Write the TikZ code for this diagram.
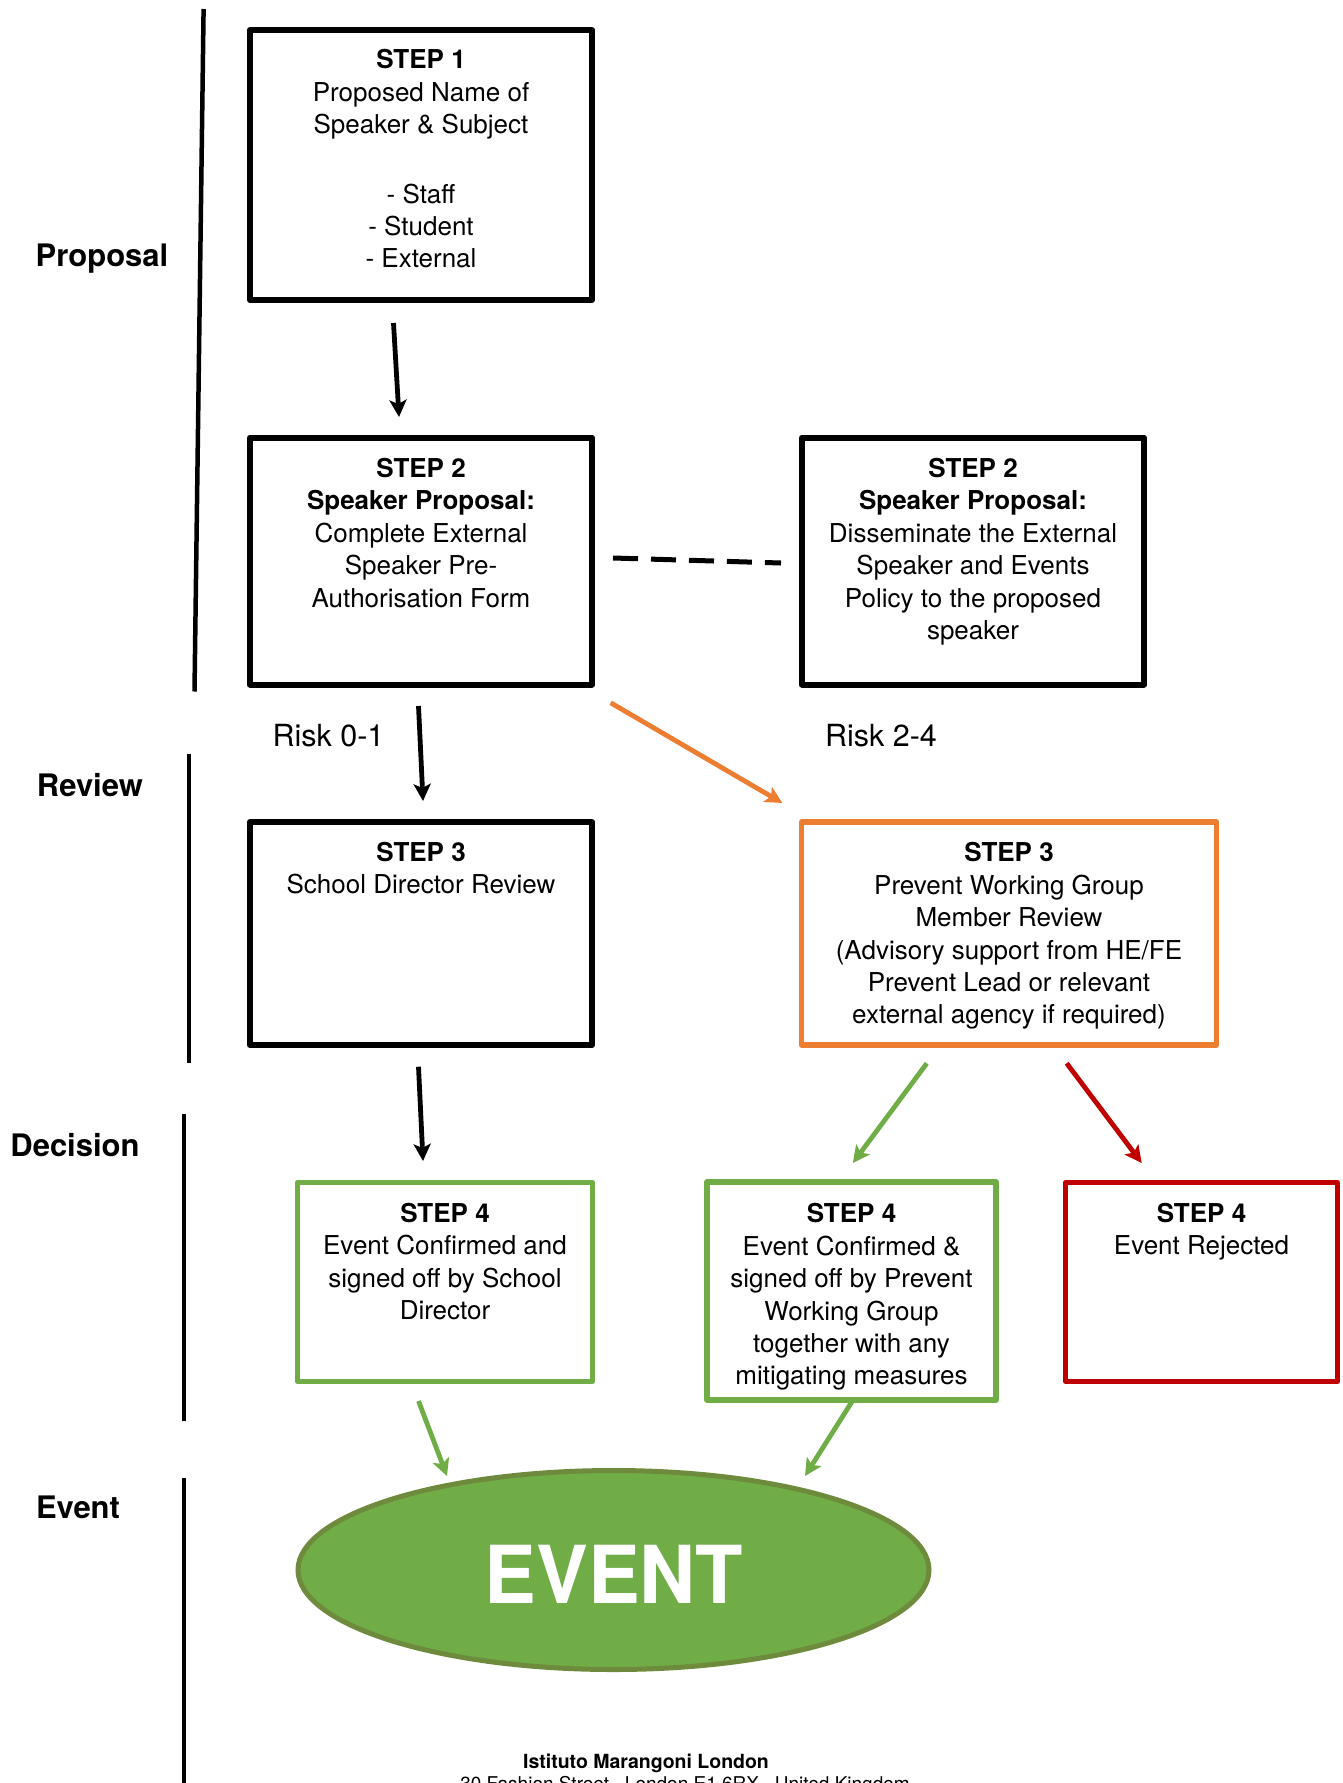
\documentclass[tikz,border=0pt]{standalone}
\usepackage{fontspec}
\setmainfont{TeX Gyre Heros}
\usetikzlibrary{shapes.geometric,arrows.meta}
\definecolor{orng}{HTML}{ED7D31}
\definecolor{grn}{HTML}{70AD47}
\definecolor{dgrn}{HTML}{6E8B3D}
\definecolor{rd}{HTML}{C00000}
\begin{document}
\begin{tikzpicture}[x=1pt,y=-1pt,
  box/.style={draw, line width=6pt, inner sep=0pt, line join=round},
  cbox/.style={draw, line width=5.2pt, inner sep=0pt, line join=round},
  txt/.style={align=center, inner sep=0pt, anchor=north, font=\fontsize{26}{32.4}\selectfont},
  lab/.style={font=\fontsize{31}{36}\selectfont\bfseries, inner sep=0pt},
  risk/.style={font=\fontsize{30.5}{36}\selectfont, inner sep=0pt},
  arr/.style={line width=4.8pt, -{Stealth[length=17pt,width=17pt,inset=4pt]}},
  vline/.style={line width=4.5pt}]
\path[use as bounding box] (0,0) rectangle (1343,1783);
\clip (0,0) rectangle (1343,1783);

% phase labels and lines
\node[lab] (lprop) at (102,259) {Proposal};
\node[lab] (lrev) at (90,785) {Review};
\node[lab] (ldec) at (75,1145) {Decision};
\node[lab] (levt) at (78,1507) {Event};
\coordinate (v1a) at (203.6,9);   \coordinate (v1b) at (194.5,691.5);
\coordinate (v2a) at (188.8,754); \coordinate (v2b) at (188.8,1063);
\coordinate (v3a) at (184,1114);  \coordinate (v3b) at (184,1421);
\coordinate (v4a) at (184,1478);  \coordinate (v4b) at (184,1790);
\draw[vline] (v1a) -- (v1b);
\draw[vline] (v2a) -- (v2b);
\draw[vline] (v3a) -- (v3b);
\draw[vline] (v4a) -- (v4b);

% boxes
\node[box, minimum width=342pt, minimum height=270pt] (s1) at (421,165) {};
\node[box, minimum width=342pt, minimum height=247pt] (s2l) at (421,561) {};
\node[box, minimum width=342pt, minimum height=247pt] (s2r) at (973,561) {};
\node[box, minimum width=342pt, minimum height=223pt] (s3l) at (421,933.5) {};
\node[cbox, draw=orng, minimum width=415pt, minimum height=223pt] (s3r) at (1009,933.5) {};
\node[cbox, draw=grn, minimum width=295pt, minimum height=199pt] (s4l) at (445,1282) {};
\node[cbox, draw=grn, minimum width=289pt, minimum height=218pt] (s4m) at (851.5,1291) {};
\node[cbox, draw=rd, minimum width=272pt, minimum height=199pt] (s4r) at (1201.5,1282) {};

% box texts
\node[txt] (t1) at ([yshift=-22.5pt]s1.north) {\textbf{STEP 1}\\Proposed Name of\\Speaker \& Subject\\[37pt]- Staff\\- Student\\- External};
\node[txt] (t2l) at ([yshift=-23.5pt]s2l.north) {\textbf{STEP 2}\\\textbf{Speaker Proposal:}\\Complete External\\Speaker Pre-\\Authorisation Form};
\node[txt] (t2r) at ([yshift=-23.5pt]s2r.north) {\textbf{STEP 2}\\\textbf{Speaker Proposal:}\\Disseminate the External\\Speaker and Events\\Policy to the proposed\\speaker};
\node[txt] (t3l) at ([yshift=-23pt]s3l.north) {\textbf{STEP 3}\\School Director Review};
\node[txt] (t3r) at ([yshift=-23pt]s3r.north) {\textbf{STEP 3}\\Prevent Working Group\\Member Review\\(Advisory support from HE/FE\\Prevent Lead or relevant\\external agency if required)};
\node[txt] (t4l) at ([yshift=-23pt]s4l.north) {\textbf{STEP 4}\\Event Confirmed and\\signed off by School\\Director};
\node[txt] (t4m) at ([yshift=-24pt]s4m.north) {\textbf{STEP 4}\\Event Confirmed \&\\signed off by Prevent\\Working Group\\together with any\\mitigating measures};
\node[txt] (t4r) at ([yshift=-23pt]s4r.north) {\textbf{STEP 4}\\Event Rejected};

% risk labels
\node[risk] (r01) at (328.5,736) {Risk 0-1};
\node[risk] (r24) at (881,736) {Risk 2-4};

% event ellipse
\node[ellipse, draw=dgrn, fill=grn, line width=5pt, minimum width=631pt, minimum height=199pt, inner sep=0pt] (evt) at (613.5,1570) {};
\node[font=\fontsize{80}{90}\selectfont\bfseries, text=white, inner sep=0pt, xscale=0.97] (evtt) at (614,1574) {EVENT};

% connectors
\coordinate (a1s) at (393.5,323);  \coordinate (a1e) at (399,417);
\coordinate (a2s) at (418.5,706);  \coordinate (a2e) at (423,801);
\coordinate (a3s) at (418.5,1066.7); \coordinate (a3e) at (423,1161);
\coordinate (ds) at (613,558);     \coordinate (de) at (781,563);
\coordinate (os) at (610.7,702.8); \coordinate (oe) at (782.4,803);
\coordinate (gs) at (926.8,1063.3); \coordinate (ge) at (852.9,1163);
\coordinate (rs) at (1066.7,1063.3); \coordinate (re) at (1141.7,1163);
\coordinate (e1s) at (418.5,1401); \coordinate (e1e) at (447,1476);
\coordinate (e2s) at (853,1400);   \coordinate (e2e) at (805,1476);

\draw[arr] (a1s) -- (a1e);
\draw[arr] (a2s) -- (a2e);
\draw[arr] (a3s) -- (a3e);
\draw[line width=5pt, dash pattern=on 25pt off 13pt] (ds) -- (de);
\draw[arr, orng] (os) -- (oe);
\draw[arr, grn] (gs) -- (ge);
\draw[arr, rd] (rs) -- (re);
\draw[arr, grn] (e1s) -- (e1e);
\draw[arr, grn] (e2s) -- (e2e);

% footer
\node[font=\fontsize{19.5}{22}\selectfont\bfseries, anchor=base, inner sep=0pt] (f1) at (646,1768) {Istituto Marangoni London};
\node[font=\fontsize{19}{22}\selectfont, anchor=base, inner sep=0pt] (f2) at (685,1790) {30 Fashion Street · London E1 6RX · United Kingdom};
\end{tikzpicture}
\end{document}
